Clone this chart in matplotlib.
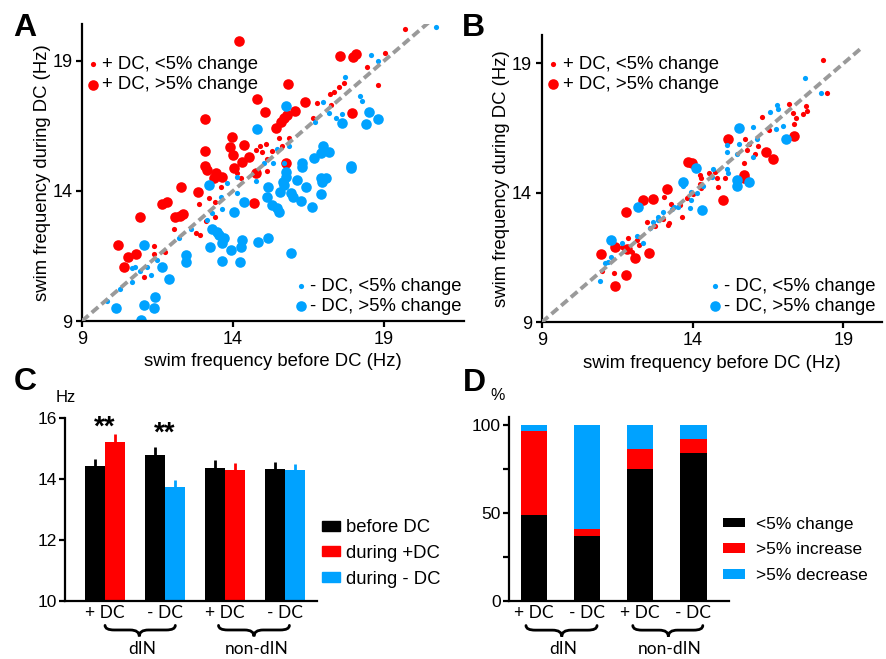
import matplotlib
matplotlib.use('Agg')
import matplotlib.pyplot as plt
import matplotlib.transforms as mtransforms
from matplotlib.path import Path
from matplotlib.patches import PathPatch, Patch

plt.rcParams['font.family'] = ['Liberation Sans', 'DejaVu Sans']

RED = '#ff0000'
BLUE = '#00a2ff'
GREY = '#9a9a9a'

# ── Panel A: dIN, swim frequency before vs during DC (Hz) ─────────
a_red_big_x = [14.20, 17.56, 17.99, 18.09, 15.82, 14.78, 16.37, 15.07, 16.06, 15.80, 15.70, 15.60, 15.44,
               17.95, 13.08, 13.98, 13.89, 14.36, 13.99, 14.52, 14.30, 14.03, 13.08, 13.08, 13.14, 13.45,
               13.36, 13.64, 15.77, 14.75, 12.27, 12.83, 11.65, 11.80, 12.09, 12.26, 12.35, 10.93, 14.69,
               10.18, 10.51, 10.80, 10.40]
a_red_big_y = [19.76, 19.19, 19.17, 19.26, 18.10, 17.54, 17.44, 17.03, 17.09, 16.92, 16.79, 16.67, 16.44,
               16.99, 16.77, 16.09, 15.68, 15.76, 15.37, 15.32, 15.13, 14.87, 15.54, 14.97, 14.81, 14.68,
               14.49, 14.55, 15.06, 14.68, 14.14, 13.97, 13.50, 13.59, 12.99, 13.04, 13.12, 12.99, 13.53,
               11.92, 11.47, 11.58, 11.09]
a_red_small_x = [19.68, 19.02, 18.45, 18.81, 17.67, 17.51, 17.34, 17.21, 17.25, 16.79, 16.65, 15.86, 15.51,
                 15.63, 15.08, 14.89, 14.75, 14.97, 15.13, 15.13, 15.30, 14.12, 14.25, 13.59, 13.20, 12.86,
                 13.42, 13.40, 13.11, 12.04, 12.78, 12.92, 11.40, 11.40, 11.76, 11.04, 10.85]
a_red_small_y = [20.24, 19.29, 18.78, 18.08, 18.14, 18.01, 17.82, 17.73, 17.31, 17.40, 16.79, 16.03, 16.05,
                 15.73, 15.81, 15.74, 15.58, 15.51, 15.23, 14.78, 15.55, 14.68, 14.49, 14.17, 13.72, 13.50,
                 13.59, 12.99, 12.85, 12.53, 12.37, 12.32, 11.90, 11.56, 11.67, 10.68, 11.60]
a_blue_big_x = [15.77, 14.78, 17.62, 18.41, 18.52, 18.80, 16.99, 17.18, 16.90, 16.68, 16.30, 16.30, 17.90,
                17.90, 15.74, 15.74, 15.66, 15.69, 16.13, 16.41, 16.90, 17.07, 16.96, 15.15, 13.20, 15.57,
                15.91, 15.99, 16.90, 15.13, 15.30, 15.46, 15.52, 16.24, 16.62, 14.36, 14.03, 13.31, 13.48,
                13.53, 13.70, 13.64, 13.92, 14.30, 14.25, 14.82, 15.15, 13.25, 12.43, 12.46, 13.64, 14.22,
                15.91, 11.04, 11.65, 11.87, 11.43, 11.04, 11.38, 10.14, 10.96]
a_blue_big_y = [17.27, 16.37, 16.60, 16.58, 17.04, 16.77, 15.71, 15.51, 15.47, 15.26, 15.06, 14.94, 14.97,
                14.87, 14.74, 14.55, 14.36, 14.23, 14.42, 14.17, 14.49, 14.49, 14.36, 14.14, 14.23, 13.97,
                13.91, 13.78, 13.87, 13.78, 13.46, 13.33, 13.21, 13.62, 13.37, 13.56, 13.21, 12.53, 12.44,
                12.31, 12.18, 11.99, 11.73, 12.12, 11.86, 12.04, 12.21, 11.86, 11.54, 11.28, 11.32, 11.26,
                11.60, 11.92, 11.09, 10.60, 9.94, 9.62, 9.49, 9.49, 9.04]
a_blue_small_x = [20.71, 18.58, 18.81, 17.70, 18.19, 18.26, 16.98, 16.73, 17.62, 17.40, 17.18, 15.85, 15.46,
                  15.33, 15.02, 14.75, 15.69, 14.14, 13.81, 14.14, 13.59, 13.14, 13.31, 13.64, 12.61, 12.20,
                  11.49, 11.15, 10.77, 10.91, 10.64, 11.27, 10.64, 10.27, 9.83]
a_blue_small_y = [20.29, 19.23, 19.01, 18.40, 17.67, 17.47, 17.41, 16.67, 16.96, 16.79, 16.99, 15.71, 15.62,
                  15.06, 15.06, 14.40, 15.06, 14.55, 14.29, 13.91, 13.76, 12.88, 13.14, 13.29, 12.53, 12.18,
                  11.35, 11.09, 11.09, 10.94, 11.03, 10.77, 10.51, 10.22, 9.77]

# ── Panel B: non-dIN ──────────────────────────────────────────────
b_red_big_x = [15.19, 16.44, 16.66, 17.36, 13.86, 13.97, 15.72, 15.69, 15.02, 13.14, 12.37, 12.70, 11.80,
               11.43, 10.96, 11.82, 12.09, 12.57, 11.80, 11.43]
b_red_big_y = [16.10, 15.59, 15.31, 16.21, 15.20, 15.14, 14.69, 14.56, 13.72, 14.15, 13.72, 13.76, 13.27,
               11.92, 11.64, 11.82, 11.47, 11.69, 10.83, 10.40]
b_red_small_x = [18.34, 18.45, 17.76, 17.78, 17.67, 17.20, 17.34, 17.43, 17.36, 16.31, 16.55, 15.74, 15.88,
                 16.16, 15.80, 16.07, 15.69, 14.25, 14.29, 14.56, 14.75, 14.80, 15.08, 14.85, 14.25, 14.27,
                 14.03, 13.81, 13.06, 13.59, 13.66, 13.29, 12.48, 12.76, 13.20, 13.23, 13.01, 11.87, 12.17,
                 12.24, 11.65, 11.98, 12.07, 11.41, 11.00]
b_red_small_y = [19.13, 17.84, 17.35, 17.16, 17.04, 17.42, 17.07, 16.88, 16.68, 16.94, 16.43, 16.10, 15.88,
                 15.82, 15.65, 15.50, 15.14, 14.69, 14.56, 14.75, 14.82, 14.56, 14.56, 14.24, 14.34, 14.17,
                 13.95, 13.79, 13.85, 13.53, 13.05, 13.57, 12.89, 12.73, 12.76, 12.85, 13.01, 12.24, 12.18,
                 11.97, 11.92, 11.73, 11.56, 10.92, 10.99]
b_blue_big_x = [15.54, 17.09, 14.12, 13.70, 15.49, 15.49, 15.86, 14.30, 12.20, 11.30]
b_blue_big_y = [16.49, 16.07, 14.95, 14.41, 14.50, 14.26, 14.41, 13.34, 13.44, 12.18]
b_blue_small_x = [17.73, 18.26, 16.79, 16.82, 16.57, 16.02, 16.77, 17.01, 16.02, 16.14, 15.55, 15.13, 15.13,
                  15.46, 14.67, 15.15, 15.18, 14.65, 13.67, 13.94, 13.94, 13.92, 14.14, 14.34, 13.40, 13.31,
                  13.53, 13.03, 12.85, 12.70, 12.59, 12.87, 12.15, 12.35, 11.65, 11.29, 11.21, 11.10, 10.93]
b_blue_small_y = [18.45, 17.84, 17.41, 17.23, 17.12, 16.54, 16.48, 16.57, 15.40, 16.10, 15.87, 15.84, 15.59,
                  15.52, 14.91, 14.93, 14.77, 14.62, 14.28, 14.05, 13.72, 13.40, 14.00, 14.28, 13.44, 13.36,
                  13.47, 13.27, 13.08, 12.89, 12.66, 12.95, 12.35, 12.08, 12.08, 11.54, 11.34, 11.28, 10.60]

# ── Panel C: mean frequency (Hz) ± SEM ───────────────────────────
c_labels = ['+ DC', '- DC', '+ DC', '- DC']
c_before = [14.42, 14.78, 14.35, 14.32]
c_before_sem = [0.23, 0.26, 0.27, 0.23]
c_during = [15.19, 13.72, 14.28, 14.28]
c_during_sem = [0.26, 0.23, 0.22, 0.21]
c_during_kind = ['+', '-', '+', '-']

# ── Panel D: % of neurons ────────────────────────────────────────
d_labels = ['+ DC', '- DC', '+ DC', '- DC']
d_small = [48.6, 37.0, 74.8, 84.2]
d_increase = [48.2, 3.6, 11.7, 7.8]
d_decrease = [3.2, 59.4, 13.5, 8.0]

W, H = 886, 659
fig = plt.figure(figsize=(W / 100, H / 100), dpi=100)


def fx(px):
    return px / W


def fy(py):
    return 1 - py / H


def style_axes(ax, labelsize=13, pad=3):
    for s in ('top', 'right'):
        ax.spines[s].set_visible(False)
    for s in ('left', 'bottom'):
        ax.spines[s].set_linewidth(1.6)
    ax.tick_params(direction='out', length=4, width=1.6, labelsize=labelsize, pad=pad)


def scatter_panel(rect, xlim, ylim, diag_end, rb, rs, bb, bs, top_anchor, bot_anchor):
    ax = fig.add_axes(rect)
    style_axes(ax)
    h_rs = ax.scatter(rs[0], rs[1], s=14, c=RED, linewidths=0, zorder=2)
    h_rb = ax.scatter(rb[0], rb[1], s=58, c=RED, linewidths=0, zorder=2)
    h_bs = ax.scatter(bs[0], bs[1], s=14, c=BLUE, linewidths=0, zorder=2)
    h_bb = ax.scatter(bb[0], bb[1], s=58, c=BLUE, linewidths=0, zorder=2)
    ax.plot([9, diag_end], [9, diag_end], color=GREY, lw=2.8, dashes=(2.2, 1.1), zorder=3)
    ax.set_xlim(*xlim)
    ax.set_ylim(*ylim)
    ax.set_xticks([9, 14, 19])
    ax.set_yticks([9, 14, 19])
    ax.set_xlabel('swim frequency before DC (Hz)', fontsize=13.3, labelpad=4)
    ax.set_ylabel('swim frequency during DC (Hz)', fontsize=13.3, labelpad=1)
    kw = dict(loc='center left', frameon=False, handlelength=0.6, handletextpad=0.2,
              borderpad=0, borderaxespad=0, labelspacing=0.17, fontsize=13.3, scatterpoints=1)
    leg1 = ax.legend([h_rs, h_rb], ['+ DC, <5% change', '+ DC, >5% change'],
                     bbox_to_anchor=top_anchor, **kw)
    ax.add_artist(leg1)
    ax.legend([h_bs, h_bb], ['- DC, <5% change', '- DC, >5% change'],
              bbox_to_anchor=bot_anchor, **kw)
    return ax


def brace(ax, x0, x1, xm, y_end, y_mid, y_tip):
    trans = mtransforms.blended_transform_factory(ax.transData, ax.transAxes)
    r = (x1 - x0) * 0.13
    verts = [(x0, y_end), (x0, y_mid), (x0 + r, y_mid),
             (xm - r, y_mid), (xm, y_mid), (xm, y_tip),
             (xm, y_mid), (xm + r, y_mid),
             (x1 - r, y_mid), (x1, y_mid), (x1, y_end)]
    codes = [Path.MOVETO, Path.CURVE3, Path.CURVE3,
             Path.LINETO, Path.CURVE3, Path.CURVE3,
             Path.CURVE3, Path.CURVE3,
             Path.LINETO, Path.CURVE3, Path.CURVE3]
    ax.add_patch(PathPatch(Path(verts, codes), transform=trans, fill=False,
                           lw=2.0, clip_on=False, capstyle='round'))


def group_labels(ax, centers, labels, braces, names):
    ax.set_xticks(centers, labels, fontfamily=['Lato', 'DejaVu Sans'], fontsize=12.5)
    ax.tick_params(axis='x', length=0, pad=3)
    trans = mtransforms.blended_transform_factory(ax.transData, ax.transAxes)
    for (x0, x1, xm), (name, xn) in zip(braces, names):
        brace(ax, x0, x1, xm, -0.135, -0.16, -0.195)
        ax.text(xn, -0.262, name, transform=trans, ha='center', va='center',
                fontsize=12.5, family=['Lato', 'DejaVu Sans'])


# ── A ──
scatter_panel([fx(82), fy(321), fx(464) - fx(82), fy(24) - fy(321)],
              (9, 21.65), (9, 20.42), 20.7,
              (a_red_big_x, a_red_big_y), (a_red_small_x, a_red_small_y),
              (a_blue_big_x, a_blue_big_y), (a_blue_small_x, a_blue_small_y),
              (0.014, 0.829), (0.558, 0.083))

# ── B ──
scatter_panel([fx(541.7), fy(322.3), fx(881.7) - fx(541.7), fy(35) - fy(322.3)],
              (9, 20.27), (9, 20.1), 19.6,
              (b_red_big_x, b_red_big_y), (b_red_small_x, b_red_small_y),
              (b_blue_big_x, b_blue_big_y), (b_blue_small_x, b_blue_small_y),
              (0.018, 0.862), (0.492, 0.090))

# ── C ──
axc = fig.add_axes([fx(65), fy(600.7), fx(317) - fx(65), fy(417.7) - fy(600.7)])
style_axes(axc, labelsize=12.5, pad=2)
pos = list(range(len(c_labels)))
bw = 0.333
during_cols = [RED if k == '+' else BLUE for k in c_during_kind]
axc.bar([p - bw / 2 for p in pos], c_before, width=bw, color='black', zorder=2)
axc.bar([p + bw / 2 for p in pos], c_during, width=bw, color=during_cols, zorder=2)
for i, p in enumerate(pos):
    axc.errorbar(p - bw / 2, c_before[i], yerr=[[0], [c_before_sem[i]]], fmt='none',
                 ecolor='black', elinewidth=2.0, capsize=0, zorder=1)
    axc.errorbar(p + bw / 2, c_during[i], yerr=[[0], [c_during_sem[i]]], fmt='none',
                 ecolor=during_cols[i], elinewidth=2.0, capsize=0, zorder=1)
axc.set_ylim(10, 16)
axc.set_xlim(-0.667, 3.53)
axc.set_yticks([10, 12, 14, 16])
axc.text(0, 15.68, '**', ha='center', va='center', fontsize=20, weight='bold')
axc.text(1, 15.48, '**', ha='center', va='center', fontsize=20, weight='bold')
group_labels(axc, pos, c_labels,
             [(0.0, 1.17, 0.57), (1.89, 3.07, 2.48)],
             [('dIN', 0.62), ('non-dIN', 2.53)])
axc.legend(handles=[Patch(color='black'), Patch(color=RED), Patch(color=BLUE)],
           labels=['before DC', 'during +DC', 'during - DC'],
           loc='center left', bbox_to_anchor=(1.019, 0.258), frameon=False,
           handlelength=1.0, handleheight=0.45, handletextpad=0.3, labelspacing=0.47,
           borderpad=0, borderaxespad=0, fontsize=13.3)
fig.text(fx(66), fy(397), 'Hz', ha='center', va='center', fontsize=12)

# ── D ──
axd = fig.add_axes([fx(509.3), fy(600.7), fx(729.3) - fx(509.3), fy(416.7) - fy(600.7)])
style_axes(axd, labelsize=12.5, pad=2)
posd = list(range(len(d_labels)))
bwd = 0.5
bot2 = [a for a in d_small]
bot3 = [a + b for a, b in zip(d_small, d_increase)]
axd.bar(posd, d_small, width=bwd, color='black', label='<5% change')
axd.bar(posd, d_increase, width=bwd, bottom=bot2, color=RED, label='>5% increase')
axd.bar(posd, d_decrease, width=bwd, bottom=bot3, color=BLUE, label='>5% decrease')
axd.set_ylim(0, 104.7)
axd.set_xlim(-0.47, 3.68)
axd.set_yticks([0, 25, 50, 75, 100], ['0', '', '50', '', '100'])
group_labels(axd, posd, d_labels,
             [(-0.155, 1.185, 0.52), (1.86, 3.18, 2.53)],
             [('dIN', 0.55), ('non-dIN', 2.56)])
axd.legend(loc='center left', bbox_to_anchor=(0.97, 0.276), frameon=False,
           handlelength=1.3, handleheight=0.5, handletextpad=0.6, labelspacing=0.62,
           borderpad=0, borderaxespad=0, fontsize=12.5)
fig.text(fx(498), fy(396), '%', ha='center', va='center', fontsize=11.5)

# ── panel letters ──
for letter, (px, py) in {'A': (25, 28), 'B': (473, 28), 'C': (25, 382), 'D': (474, 383)}.items():
    fig.text(fx(px), fy(py), letter, ha='center', va='center', fontsize=23, weight='bold')

fig.savefig('out.png', dpi=100)
